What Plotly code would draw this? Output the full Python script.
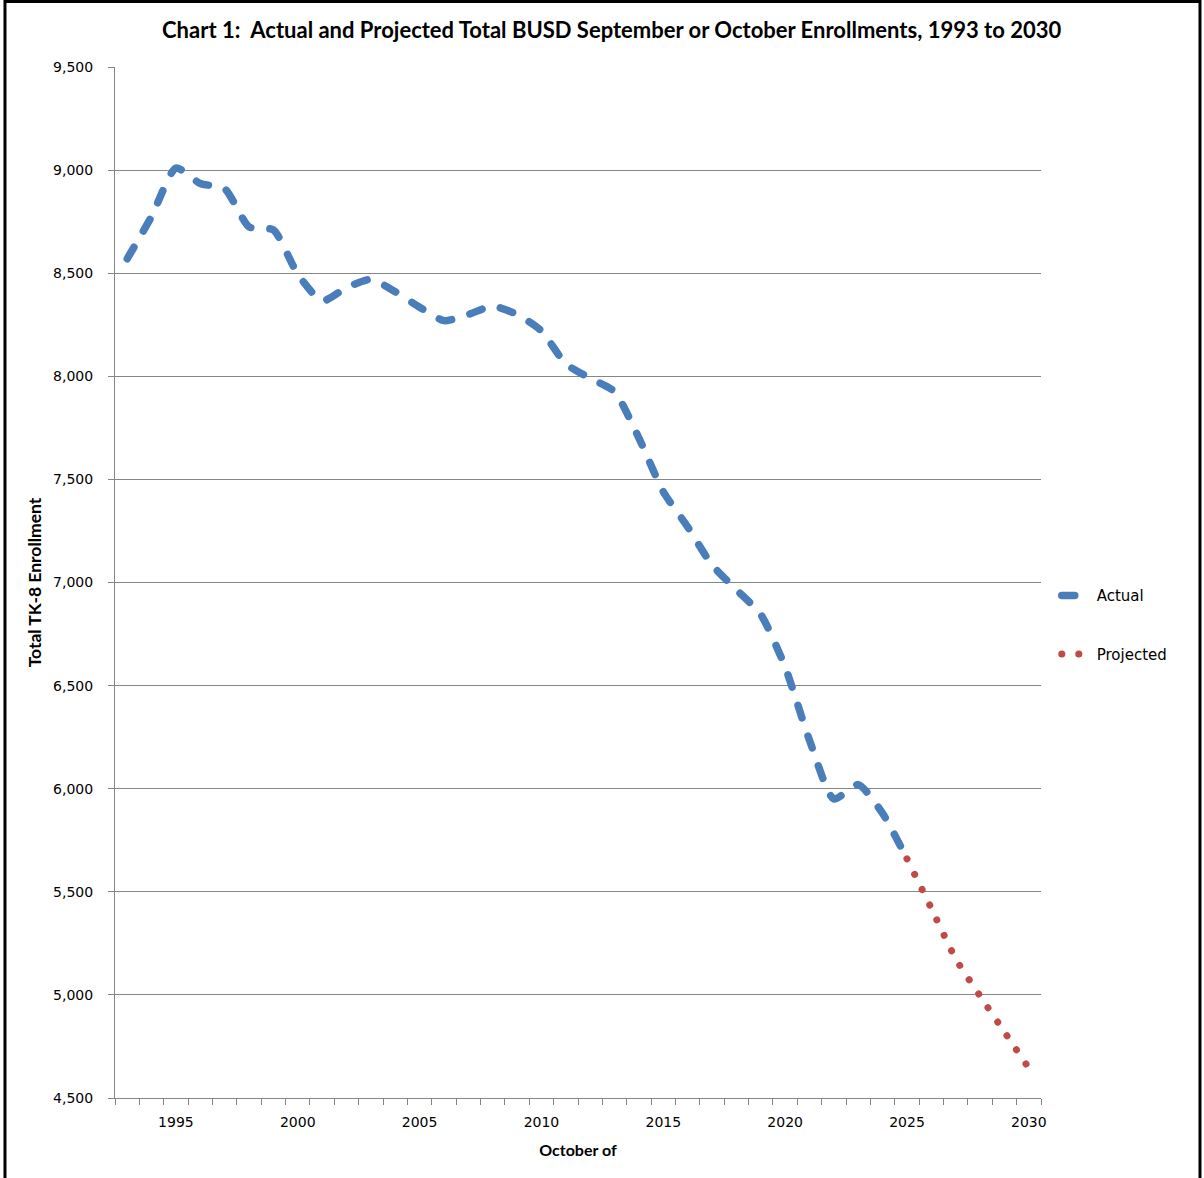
import plotly.graph_objects as go

# ---- data ----
years_actual = list(range(1993, 2026))
actual = [8570, 8775, 9010, 8935, 8910, 8725, 8710, 8495, 8365, 8430,
          8470, 8410, 8335, 8270, 8300, 8340, 8300, 8220, 8060, 7990,
          7925, 7700, 7440, 7270, 7085, 6965, 6845, 6590, 6235, 5950,
          6020, 5880, 5660]
years_proj = list(range(2025, 2031))
projected = [5660, 5420, 5175, 4995, 4820, 4645]
year_ticks = [1995, 2000, 2005, 2010, 2015, 2020, 2025, 2030]

title_text = "Chart 1:\u00a0 Actual and Projected Total BUSD September or October Enrollments, 1993 to 2030"

BLUE = "#4A7EBB"
RED = "#BE4B48"
GRID = "#868686"
TICKFONT = dict(family="DejaVu Sans", size=14, color="#000000")
BOLDFONT = "Lato"

fig = go.Figure()
fig.add_trace(go.Scatter(
    x=years_actual, y=actual, mode="lines", name="Actual", legendgroup="a",
    line=dict(color=BLUE, width=7.5, dash="13px,19px", shape="spline", smoothing=0.6),
    hoverinfo="x+y"))
fig.add_trace(go.Scatter(
    x=years_proj, y=projected, mode="lines", name="Projected", legendgroup="p",
    line=dict(color=RED, width=7, dash="0.1px,16.9px", shape="spline", smoothing=0.6),
    hoverinfo="x+y"))

fig.update_layout(
    width=1204, height=1178,
    margin=dict(l=115, r=163, t=67, b=80),
    paper_bgcolor="white", plot_bgcolor="white",
    title=dict(text=title_text, x=0.508, xanchor="center", y=0.974, yanchor="middle",
               font=dict(family=BOLDFONT, size=22, color="#000000", weight="bold")),
    showlegend=True,
    legend=dict(x=1.017, xanchor="left", y=0.459, yanchor="middle",
                font=dict(family="DejaVu Sans", size=15, color="#000000"),
                tracegroupgap=36, traceorder="grouped", bgcolor="rgba(0,0,0,0)"),
    shapes=[dict(type="rect", xref="paper", yref="paper",
                 x0=-0.1188, x1=1.1717, y0=-0.12, y1=1.0635,
                 line=dict(color="#000000", width=3), layer="above")],
)

fig.update_xaxes(
    range=[1992.5, 2030.5], tickmode="array", tickvals=year_ticks,
    ticktext=[str(y) for y in year_ticks], ticks="", showgrid=False, zeroline=False,
    showline=True, linecolor=GRID, linewidth=1, tickfont=TICKFONT,
    ticklabelstandoff=11,
    minor=dict(ticks="outside", ticklen=6, tickcolor=GRID, tick0=1992.5, dtick=1, showgrid=False),
    title=dict(text="October of", standoff=16,
               font=dict(family=BOLDFONT, size=16, color="#000000", weight="bold")))
fig.update_yaxes(
    range=[4500, 9500], tick0=4500, dtick=500, tickformat=",", showgrid=True,
    gridcolor=GRID, gridwidth=1, zeroline=False, showline=True, linecolor=GRID,
    linewidth=1, ticks="outside", ticklen=6, tickcolor=GRID, tickfont=TICKFONT,
    ticklabelstandoff=12,
    title=dict(text="Total TK-8 Enrollment", standoff=6,
               font=dict(family=BOLDFONT, size=17.5, color="#000000", weight="bold")))

post = """
document.body.style.margin='0';
var gd = document.getElementById('{plot_id}');
function rc(){ gd.querySelectorAll('path.js-line').forEach(function(p){p.style.strokeLinecap='round';p.style.strokeLinejoin='round';}); }
rc(); gd.on('plotly_afterplot', rc);
"""
fig.write_html("out.html", post_script=post, config={"displayModeBar": False})
